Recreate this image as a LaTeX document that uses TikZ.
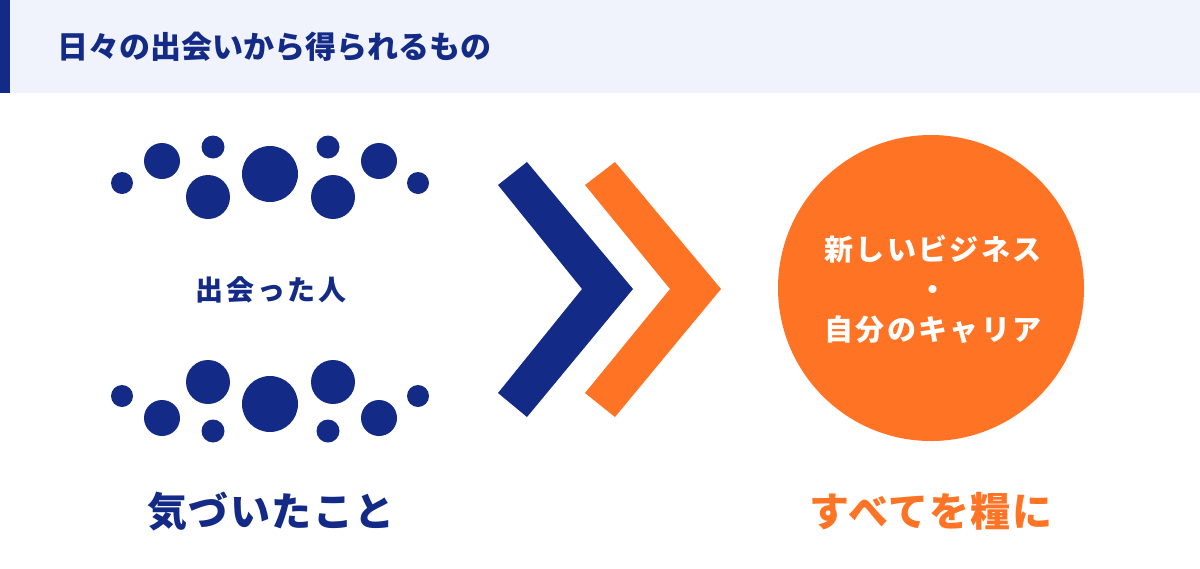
\documentclass[tikz,border=0pt]{standalone}
\usepackage{fontspec}
\newfontfamily\jp{Noto Sans CJK JP}
\usetikzlibrary{positioning}
\definecolor{navy}{RGB}{19,42,135}
\definecolor{carrot}{RGB}{255,115,36}
\definecolor{band}{RGB}{240,242,252}

\begin{document}
\begin{tikzpicture}[x=0.5pt,y=-0.5pt,
  head/.style={font=\jp\bfseries\fontsize{15.5pt}{18pt}\selectfont, text=navy, inner sep=0pt},
  small/.style={font=\jp\bfseries\addfontfeatures{LetterSpace=10}\fontsize{14pt}{17pt}\selectfont, text=navy, inner sep=0pt},
  big/.style={font=\jp\bfseries\addfontfeatures{LetterSpace=4}\fontsize{20pt}{24pt}\selectfont, inner sep=0pt},
  inside/.style={font=\jp\bfseries\addfontfeatures{LetterSpace=8}\fontsize{14.5pt}{20pt}\selectfont, text=white, align=center, inner sep=0pt}]
  \useasboundingbox (0,0) rectangle (1200,568);
  % header band
  \fill[band] (0,0) rectangle (1200,93);
  \fill[navy] (0,0) rectangle (10,93);
  \node[head, anchor=west] (title) at (57,47) {日々の出会いから得られるもの};
  % dots, upper and lower row
  \foreach \x/\y/\r in {122/183/11, 162/161/18, 213/147/11.5, 208/197/22, 270/174/28,
                        328/147/11.5, 333/197/22, 379/161/18, 418/183/11}
    \fill[navy] (\x,\y) circle[radius=\r];
  \foreach \x/\y/\r in {122/396/11, 162/418/18, 208/382/22, 213/431/11.5, 270/404/28,
                        333/382/22, 328/431/11.5, 379/418/18, 418/396/11}
    \fill[navy] (\x,\y) circle[radius=\r];
  \node[small] (met) at (271,290) {出会った人};
  \node[big, text=navy] (noticed) at (271,512) {気づいたこと};
  % chevrons
  \fill[navy] (498,185) -- (527,162) -- (633,289) -- (527,417) -- (498,393) -- (582,289) -- cycle;
  \fill[carrot] (585,185) -- (615,162) -- (721,289) -- (615,417) -- (585,393) -- (670,289) -- cycle;
  % result
  \node[circle, fill=carrot, minimum size=153pt, inner sep=0pt] (goal) at (931,288) {};
  \node[inside] (goaltext) at (933,289) {新しいビジネス\\・\\自分のキャリア};
  \node[big, text=carrot] (gain) at (931,511) {すべてを糧に};
\end{tikzpicture}
\end{document}
